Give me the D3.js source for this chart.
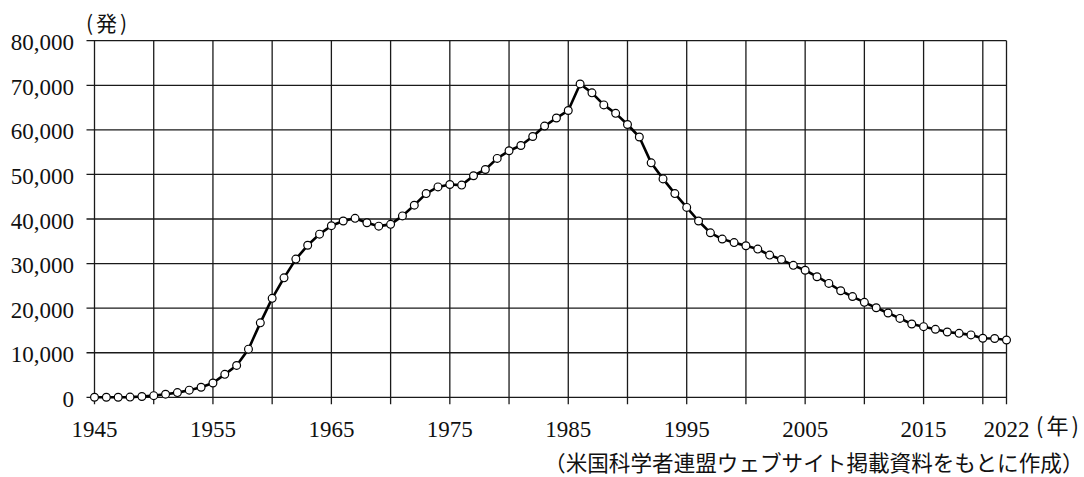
<!DOCTYPE html>
<html><head><meta charset="utf-8">
<script src="https://cdn.jsdelivr.net/npm/d3@7"></script>
<style>
html,body{margin:0;padding:0;background:#fff;}
svg{display:block;}
.num{font-family:"Liberation Serif","DejaVu Serif",serif;}
.jp{font-family:"Noto Sans CJK JP","Noto Sans",sans-serif;}
</style></head>
<body>
<svg id="chart" width="1084" height="477"></svg>
<script>
const years = [1945,1946,1947,1948,1949,1950,1951,1952,1953,1954,1955,1956,1957,1958,1959,1960,1961,1962,1963,1964,1965,1966,1967,1968,1969,1970,1971,1972,1973,1974,1975,1976,1977,1978,1979,1980,1981,1982,1983,1984,1985,1986,1987,1988,1989,1990,1991,1992,1993,1994,1995,1996,1997,1998,1999,2000,2001,2002,2003,2004,2005,2006,2007,2008,2009,2010,2011,2012,2013,2014,2015,2016,2017,2018,2019,2020,2021,2022];
const warheads = [2,9,13,50,170,370,700,1050,1600,2250,3200,5150,7150,10800,16700,22200,26800,31000,34100,36600,38500,39550,40150,39150,38400,38800,40700,43100,45700,47200,47750,47600,49700,51100,53600,55300,56500,58500,60850,62650,64350,70300,68300,65600,63700,61200,58400,52600,49000,45700,42600,39550,36900,35500,34700,34000,33250,31900,30900,29600,28500,27050,25550,23900,22600,21300,20100,18900,17700,16450,15850,15250,14650,14350,14000,13250,13200,12850];
const xTickLabels = [1945,1955,1965,1975,1985,1995,2005,2015,2022];
const xGridYears = [1945,1950,1955,1960,1965,1970,1975,1980,1985,1990,1995,2000,2005,2010,2015,2020,2022];
const yTicks = [0,10000,20000,30000,40000,50000,60000,70000,80000];
const yUnit = "(発)";
const xUnit = "(年)";
const sourceText = "（米国科学者連盟ウェブサイト掲載資料をもとに作成）";

const svg = d3.select("#chart");
const pLeft = 94.5, pRight = 1006.5, pTop = 40.7, pBottom = 397.3;
const x = d3.scaleLinear().domain([1945, 2022]).range([pLeft, pRight]);
const y = d3.scaleLinear().domain([0, 80000]).range([pBottom, pTop]);
const gridColor = "#1a1a1a";

// horizontal grid lines
svg.append("g").selectAll("line").data(yTicks).join("line")
  .attr("x1", pLeft - 8).attr("x2", pRight)
  .attr("y1", d => y(d)).attr("y2", d => y(d))
  .attr("stroke", gridColor).attr("stroke-width", 1.3);

// vertical grid lines
svg.append("g").selectAll("line").data(xGridYears).join("line")
  .attr("x1", d => x(d)).attr("x2", d => x(d))
  .attr("y1", pTop).attr("y2", pBottom + 7)
  .attr("stroke", gridColor).attr("stroke-width", 1.3);

// y tick labels
svg.append("g").selectAll("text").data(yTicks).join("text")
  .attr("class", "num")
  .attr("x", 74).attr("y", d => y(d) + 9.5)
  .attr("text-anchor", "end")
  .style("font-size", "23px").attr("fill", "#111")
  .text(d => d3.format(",")(d));

// x tick labels
svg.append("g").selectAll("text").data(xTickLabels).join("text")
  .attr("class", "num")
  .attr("x", d => x(d)).attr("y", 437)
  .attr("text-anchor", "middle")
  .style("font-size", "23px").attr("fill", "#111")
  .text(d => d);

// units
svg.append("text").attr("class", "jp").attr("x", 86).attr("y", 31)
  .style("font-size", "21px").style("letter-spacing", "3px").attr("fill", "#111").text(yUnit);
svg.append("text").attr("class", "jp").attr("x", 1036).attr("y", 434)
  .style("font-size", "22px").style("letter-spacing", "3px").attr("fill", "#111").text(xUnit);
svg.append("text").attr("class", "jp").attr("x", 1083.5).attr("y", 471)
  .attr("text-anchor", "end")
  .style("font-size", "21.6px").attr("fill", "#111").text(sourceText);

// line
const data = years.map((yr, i) => ({yr, v: warheads[i]}));
svg.append("path").datum(data)
  .attr("fill", "none").attr("stroke", "#000").attr("stroke-width", 2.6)
  .attr("stroke-linejoin", "round")
  .attr("d", d3.line().x(d => x(d.yr)).y(d => y(d.v)));

// markers
svg.append("g").selectAll("circle").data(data).join("circle")
  .attr("cx", d => x(d.yr)).attr("cy", d => y(d.v)).attr("r", 3.9)
  .attr("fill", "#fff").attr("stroke", "#000").attr("stroke-width", 1.2);
</script>
</body></html>
